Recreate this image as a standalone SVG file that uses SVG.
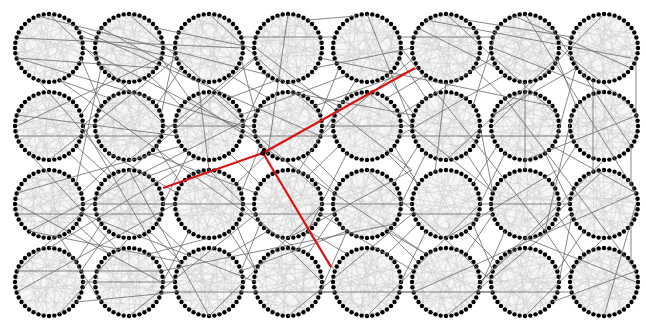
<svg xmlns="http://www.w3.org/2000/svg" width="646" height="320" viewBox="0 0 646 320">
<style>
.bg{fill:#ffffff}
.mesh{fill:none;stroke:#cfcfcf;stroke-width:0.5}
.disk{fill:#000;fill-opacity:0.035;stroke:none}
.dot{fill:#000}
#connectors line{stroke:#6a6a6a;stroke-width:0.95;stroke-opacity:0.85}
.red{fill:none;stroke:#d81414;stroke-width:2.2;stroke-linejoin:round}
</style>
<defs>
<g id="mesh">
<circle class="disk" r="34"/>
<path class="mesh" d="M34 0L-30.3 15.4M33.6 5.3L-30.3 -15.4M32.3 10.5L0 -34M30.3 15.4L-10.5 32.3M27.5 20L-20 -27.5M24 24L-33.6 5.3M20 27.5L15.4 -30.3M15.4 30.3L-33.6 -5.3M10.5 32.3L-15.4 -30.3M5.3 33.6L27.5 -20M0 34L-27.5 -20M-5.3 33.6L5.3 -33.6M-10.5 32.3L32.3 -10.5M-15.4 30.3L-5.3 -33.6M-20 27.5L30.3 15.4M-24 24L20 -27.5M-27.5 20L10.5 32.3M-30.3 15.4L30.3 -15.4M-32.3 10.5L-10.5 -32.3M-33.6 5.3L33.6 -5.3M-34 0L20 27.5M-33.6 -5.3L24 -24M-32.3 -10.5L-5.3 33.6M-30.3 -15.4L32.3 10.5M-27.5 -20L-20 27.5M-24 -24L33.6 5.3M-20 -27.5L-27.5 20M-15.4 -30.3L24 24M-10.5 -32.3L5.3 33.6M-5.3 -33.6L-32.3 10.5M0 -34L-15.4 30.3M5.3 -33.6L-32.3 -10.5M10.5 -32.3L15.4 30.3M15.4 -30.3L-34 0M20 -27.5L-24 -24M24 -24L0 34M27.5 -20L-24 24M30.3 -15.4L-20 -27.5M32.3 -10.5L-33.6 5.3M33.6 -5.3L27.5 20M34 0L-32.3 -10.5M24 24L-10.5 -32.3M0 34L15.4 -30.3M-24 24L32.3 -10.5M-34 0L30.3 15.4M-24 -24L10.5 32.3M0 -34L-5.3 33.6M24 -24L-32.3 10.5"/>
</g>
<g id="ring" class="dot">
<circle cx="34" cy="0" r="2.2"/><circle cx="33.58" cy="5.32" r="2.2"/><circle cx="32.34" cy="10.51" r="2.2"/><circle cx="30.29" cy="15.44" r="2.2"/><circle cx="27.51" cy="19.98" r="2.2"/><circle cx="24.04" cy="24.04" r="2.2"/><circle cx="19.98" cy="27.51" r="2.2"/><circle cx="15.44" cy="30.29" r="2.2"/><circle cx="10.51" cy="32.34" r="2.2"/><circle cx="5.32" cy="33.58" r="2.2"/>
<circle cx="0" cy="34" r="2.2"/><circle cx="-5.32" cy="33.58" r="2.2"/><circle cx="-10.51" cy="32.34" r="2.2"/><circle cx="-15.44" cy="30.29" r="2.2"/><circle cx="-19.98" cy="27.51" r="2.2"/><circle cx="-24.04" cy="24.04" r="2.2"/><circle cx="-27.51" cy="19.98" r="2.2"/><circle cx="-30.29" cy="15.44" r="2.2"/><circle cx="-32.34" cy="10.51" r="2.2"/><circle cx="-33.58" cy="5.32" r="2.2"/>
<circle cx="-34" cy="0" r="2.2"/><circle cx="-33.58" cy="-5.32" r="2.2"/><circle cx="-32.34" cy="-10.51" r="2.2"/><circle cx="-30.29" cy="-15.44" r="2.2"/><circle cx="-27.51" cy="-19.98" r="2.2"/><circle cx="-24.04" cy="-24.04" r="2.2"/><circle cx="-19.98" cy="-27.51" r="2.2"/><circle cx="-15.44" cy="-30.29" r="2.2"/><circle cx="-10.51" cy="-32.34" r="2.2"/><circle cx="-5.32" cy="-33.58" r="2.2"/>
<circle cx="0" cy="-34" r="2.2"/><circle cx="5.32" cy="-33.58" r="2.2"/><circle cx="10.51" cy="-32.34" r="2.2"/><circle cx="15.44" cy="-30.29" r="2.2"/><circle cx="19.98" cy="-27.51" r="2.2"/><circle cx="24.04" cy="-24.04" r="2.2"/><circle cx="27.51" cy="-19.98" r="2.2"/><circle cx="30.29" cy="-15.44" r="2.2"/><circle cx="32.34" cy="-10.51" r="2.2"/><circle cx="33.58" cy="-5.32" r="2.2"/>
</g>
</defs>
<rect class="bg" width="646" height="320"/>

<g id="n00" transform="translate(49,48)"><use href="#mesh"/><use href="#ring"/></g>
<g id="n10" transform="translate(129,48)"><use href="#mesh" transform="rotate(40)"/><use href="#ring"/></g>
<g id="n20" transform="translate(209,48)"><use href="#mesh" transform="rotate(80)"/><use href="#ring"/></g>
<g id="n30" transform="translate(288,48)"><use href="#mesh" transform="rotate(120)"/><use href="#ring"/></g>
<g id="n40" transform="translate(367,48)"><use href="#mesh" transform="rotate(160)"/><use href="#ring"/></g>
<g id="n50" transform="translate(446,48)"><use href="#mesh" transform="rotate(200)"/><use href="#ring"/></g>
<g id="n60" transform="translate(525,48)"><use href="#mesh" transform="rotate(240)"/><use href="#ring"/></g>
<g id="n70" transform="translate(604,48)"><use href="#mesh" transform="rotate(280)"/><use href="#ring"/></g>
<g id="n01" transform="translate(49,126)"><use href="#mesh" transform="rotate(20)"/><use href="#ring"/></g>
<g id="n11" transform="translate(129,126)"><use href="#mesh" transform="rotate(60)"/><use href="#ring"/></g>
<g id="n21" transform="translate(209,126)"><use href="#mesh" transform="rotate(100)"/><use href="#ring"/></g>
<g id="n31" transform="translate(288,126)"><use href="#mesh" transform="rotate(140)"/><use href="#ring"/></g>
<g id="n41" transform="translate(367,126)"><use href="#mesh" transform="rotate(180)"/><use href="#ring"/></g>
<g id="n51" transform="translate(446,126)"><use href="#mesh" transform="rotate(220)"/><use href="#ring"/></g>
<g id="n61" transform="translate(525,126)"><use href="#mesh" transform="rotate(260)"/><use href="#ring"/></g>
<g id="n71" transform="translate(604,126)"><use href="#mesh" transform="rotate(300)"/><use href="#ring"/></g>
<g id="n02" transform="translate(49,204)"><use href="#mesh" transform="rotate(70)"/><use href="#ring"/></g>
<g id="n12" transform="translate(129,204)"><use href="#mesh" transform="rotate(110)"/><use href="#ring"/></g>
<g id="n22" transform="translate(209,204)"><use href="#mesh" transform="rotate(150)"/><use href="#ring"/></g>
<g id="n32" transform="translate(288,204)"><use href="#mesh" transform="rotate(190)"/><use href="#ring"/></g>
<g id="n42" transform="translate(367,204)"><use href="#mesh" transform="rotate(230)"/><use href="#ring"/></g>
<g id="n52" transform="translate(446,204)"><use href="#mesh" transform="rotate(270)"/><use href="#ring"/></g>
<g id="n62" transform="translate(525,204)"><use href="#mesh" transform="rotate(310)"/><use href="#ring"/></g>
<g id="n72" transform="translate(604,204)"><use href="#mesh" transform="rotate(350)"/><use href="#ring"/></g>
<g id="n03" transform="translate(49,282)"><use href="#mesh" transform="rotate(130)"/><use href="#ring"/></g>
<g id="n13" transform="translate(129,282)"><use href="#mesh" transform="rotate(170)"/><use href="#ring"/></g>
<g id="n23" transform="translate(209,282)"><use href="#mesh" transform="rotate(210)"/><use href="#ring"/></g>
<g id="n33" transform="translate(288,282)"><use href="#mesh" transform="rotate(250)"/><use href="#ring"/></g>
<g id="n43" transform="translate(367,282)"><use href="#mesh" transform="rotate(290)"/><use href="#ring"/></g>
<g id="n53" transform="translate(446,282)"><use href="#mesh" transform="rotate(330)"/><use href="#ring"/></g>
<g id="n63" transform="translate(525,282)"><use href="#mesh" transform="rotate(10)"/><use href="#ring"/></g>
<g id="n73" transform="translate(604,282)"><use href="#mesh" transform="rotate(50)"/><use href="#ring"/></g>

<g id="connectors">
<line x1="17" y1="58" x2="156" y2="68"/><line x1="17" y1="38" x2="243" y2="48"/><line x1="81" y1="58" x2="101" y2="106"/><line x1="38" y1="80" x2="118" y2="172"/><line x1="81" y1="37" x2="177" y2="58"/>
<line x1="129" y1="82" x2="83" y2="126"/><line x1="101" y1="28" x2="189" y2="76"/><line x1="101" y1="68" x2="76" y2="184"/><line x1="156" y1="28" x2="254" y2="48"/><line x1="161" y1="58" x2="189" y2="98"/>
<line x1="175" y1="48" x2="161" y2="115"/><line x1="229" y1="75" x2="268" y2="98"/><line x1="241" y1="37" x2="335" y2="37"/><line x1="198" y1="80" x2="209" y2="170"/><line x1="256" y1="58" x2="156" y2="146"/>
<line x1="315" y1="68" x2="412" y2="48"/><line x1="288" y1="82" x2="339" y2="106"/><line x1="308" y1="20" x2="356" y2="16"/><line x1="268" y1="75" x2="243" y2="126"/><line x1="339" y1="68" x2="320" y2="115"/>
<line x1="399" y1="58" x2="426" y2="98"/><line x1="399" y1="37" x2="493" y2="37"/><line x1="356" y1="80" x2="298" y2="172"/><line x1="414" y1="58" x2="320" y2="136"/><line x1="473" y1="68" x2="505" y2="98"/>
<line x1="466" y1="20" x2="572" y2="37"/><line x1="446" y1="82" x2="435" y2="172"/><line x1="418" y1="28" x2="497" y2="68"/><line x1="505" y1="75" x2="399" y2="136"/><line x1="557" y1="58" x2="576" y2="106"/>
<line x1="514" y1="16" x2="631" y2="68"/><line x1="525" y1="82" x2="525" y2="170"/><line x1="576" y1="68" x2="557" y2="136"/><line x1="593" y1="80" x2="593" y2="172"/><line x1="636" y1="58" x2="636" y2="115"/>
<line x1="17" y1="136" x2="161" y2="136"/><line x1="17" y1="115" x2="177" y2="136"/><line x1="76" y1="146" x2="109" y2="176"/><line x1="81" y1="115" x2="109" y2="75"/><line x1="29" y1="153" x2="118" y2="250"/>
<line x1="163" y1="126" x2="254" y2="126"/><line x1="156" y1="106" x2="181" y2="68"/><line x1="109" y1="153" x2="177" y2="193"/><line x1="149" y1="153" x2="256" y2="193"/><line x1="109" y1="98" x2="59" y2="80"/>
<line x1="241" y1="136" x2="335" y2="136"/><line x1="229" y1="98" x2="277" y2="80"/><line x1="229" y1="153" x2="260" y2="184"/><line x1="189" y1="153" x2="163" y2="204"/><line x1="181" y1="106" x2="149" y2="75"/>
<line x1="241" y1="115" x2="347" y2="75"/><line x1="322" y1="126" x2="412" y2="126"/><line x1="260" y1="146" x2="241" y2="193"/><line x1="315" y1="106" x2="418" y2="68"/><line x1="308" y1="153" x2="339" y2="184"/>
<line x1="256" y1="115" x2="241" y2="58"/><line x1="399" y1="136" x2="493" y2="136"/><line x1="347" y1="153" x2="298" y2="250"/><line x1="387" y1="98" x2="426" y2="75"/><line x1="387" y1="153" x2="418" y2="184"/>
<line x1="399" y1="115" x2="493" y2="58"/><line x1="478" y1="136" x2="572" y2="136"/><line x1="426" y1="153" x2="401" y2="204"/><line x1="473" y1="106" x2="497" y2="28"/><line x1="466" y1="153" x2="493" y2="193"/>
<line x1="414" y1="115" x2="387" y2="75"/><line x1="493" y1="115" x2="576" y2="68"/><line x1="545" y1="153" x2="570" y2="204"/><line x1="505" y1="153" x2="480" y2="204"/><line x1="631" y1="146" x2="631" y2="184"/>
<line x1="572" y1="115" x2="545" y2="231"/><line x1="631" y1="106" x2="559" y2="48"/><line x1="83" y1="204" x2="175" y2="204"/><line x1="81" y1="193" x2="118" y2="158"/><line x1="76" y1="224" x2="109" y2="254"/>
<line x1="17" y1="214" x2="161" y2="214"/><line x1="17" y1="193" x2="181" y2="146"/><line x1="29" y1="231" x2="181" y2="262"/><line x1="163" y1="204" x2="254" y2="204"/><line x1="156" y1="224" x2="189" y2="254"/>
<line x1="101" y1="224" x2="76" y2="262"/><line x1="149" y1="176" x2="198" y2="158"/><line x1="101" y1="184" x2="69" y2="153"/><line x1="241" y1="214" x2="335" y2="214"/><line x1="189" y1="231" x2="163" y2="282"/>
<line x1="229" y1="231" x2="256" y2="271"/><line x1="236" y1="184" x2="268" y2="153"/><line x1="181" y1="184" x2="156" y2="146"/><line x1="322" y1="204" x2="412" y2="204"/><line x1="260" y1="224" x2="241" y2="271"/>
<line x1="308" y1="231" x2="347" y2="254"/><line x1="308" y1="176" x2="339" y2="146"/><line x1="320" y1="214" x2="414" y2="271"/><line x1="399" y1="214" x2="493" y2="214"/><line x1="347" y1="231" x2="320" y2="292"/>
<line x1="387" y1="231" x2="426" y2="254"/><line x1="394" y1="184" x2="418" y2="146"/><line x1="335" y1="193" x2="298" y2="158"/><line x1="480" y1="204" x2="570" y2="204"/><line x1="426" y1="231" x2="401" y2="282"/>
<line x1="466" y1="231" x2="497" y2="262"/><line x1="473" y1="184" x2="497" y2="146"/><line x1="418" y1="184" x2="394" y2="146"/><line x1="557" y1="214" x2="584" y2="254"/><line x1="505" y1="231" x2="478" y2="292"/>
<line x1="552" y1="184" x2="576" y2="146"/><line x1="493" y1="193" x2="480" y2="126"/><line x1="631" y1="224" x2="631" y2="262"/><line x1="572" y1="214" x2="559" y2="282"/><line x1="636" y1="193" x2="552" y2="146"/>
<line x1="83" y1="282" x2="175" y2="282"/><line x1="81" y1="271" x2="109" y2="231"/><line x1="76" y1="302" x2="177" y2="292"/><line x1="17" y1="271" x2="161" y2="271"/><line x1="59" y1="314" x2="129" y2="238"/>
<line x1="161" y1="292" x2="256" y2="292"/><line x1="149" y1="254" x2="209" y2="238"/><line x1="101" y1="302" x2="59" y2="236"/><line x1="241" y1="292" x2="335" y2="292"/><line x1="229" y1="254" x2="268" y2="231"/>
<line x1="181" y1="262" x2="149" y2="231"/><line x1="241" y1="271" x2="347" y2="231"/><line x1="320" y1="292" x2="414" y2="292"/><line x1="308" y1="254" x2="335" y2="214"/><line x1="256" y1="271" x2="236" y2="224"/>
<line x1="399" y1="292" x2="493" y2="292"/><line x1="387" y1="254" x2="418" y2="224"/><line x1="335" y1="271" x2="308" y2="231"/><line x1="478" y1="292" x2="572" y2="292"/><line x1="466" y1="254" x2="493" y2="214"/>
<line x1="418" y1="262" x2="387" y2="231"/><line x1="557" y1="271" x2="584" y2="231"/><line x1="493" y1="271" x2="473" y2="224"/><line x1="572" y1="271" x2="545" y2="231"/><line x1="636" y1="271" x2="552" y2="302"/>
<line x1="17" y1="58" x2="243" y2="126"/><line x1="59" y1="80" x2="298" y2="250"/><line x1="189" y1="98" x2="426" y2="254"/><line x1="76" y1="28" x2="320" y2="136"/><line x1="414" y1="292" x2="636" y2="193"/>
<line x1="38" y1="16" x2="268" y2="75"/><line x1="552" y1="28" x2="631" y2="146"/><line x1="29" y1="231" x2="256" y2="115"/><line x1="161" y1="271" x2="394" y2="224"/><line x1="505" y1="98" x2="636" y2="271"/>
<line x1="17" y1="271" x2="149" y2="153"/><line x1="320" y1="58" x2="552" y2="106"/><line x1="426" y1="20" x2="631" y2="58"/>
<line x1="83" y1="48" x2="254" y2="136"/><line x1="49" y1="14" x2="177" y2="136"/><line x1="129" y1="14" x2="241" y2="115"/><line x1="209" y1="14" x2="320" y2="115"/><line x1="288" y1="14" x2="268" y2="153"/>
<line x1="367" y1="14" x2="412" y2="126"/><line x1="446" y1="14" x2="557" y2="115"/><line x1="604" y1="14" x2="493" y2="126"/><line x1="525" y1="14" x2="636" y2="193"/><line x1="17" y1="126" x2="161" y2="58"/>
<line x1="49" y1="160" x2="177" y2="58"/><line x1="129" y1="160" x2="254" y2="58"/><line x1="209" y1="92" x2="320" y2="192"/><line x1="288" y1="92" x2="412" y2="115"/><line x1="367" y1="92" x2="493" y2="192"/>
<line x1="446" y1="160" x2="557" y2="58"/><line x1="525" y1="160" x2="638" y2="115"/><line x1="604" y1="92" x2="493" y2="48"/><line x1="17" y1="204" x2="161" y2="282"/><line x1="83" y1="214" x2="256" y2="282"/>
<line x1="129" y1="170" x2="209" y2="316"/><line x1="209" y1="170" x2="322" y2="282"/><line x1="288" y1="238" x2="412" y2="170"/><line x1="367" y1="170" x2="493" y2="282"/><line x1="446" y1="238" x2="557" y2="170"/>
<line x1="525" y1="238" x2="636" y2="282"/><line x1="604" y1="170" x2="480" y2="282"/><line x1="49" y1="248" x2="177" y2="170"/><line x1="17" y1="292" x2="175" y2="204"/><line x1="129" y1="316" x2="256" y2="214"/>
<line x1="209" y1="316" x2="322" y2="204"/><line x1="288" y1="316" x2="412" y2="214"/><line x1="367" y1="316" x2="480" y2="204"/><line x1="446" y1="316" x2="570" y2="214"/><line x1="525" y1="316" x2="604" y2="238"/>
<line x1="604" y1="316" x2="636" y2="204"/><line x1="83" y1="126" x2="175" y2="282"/><line x1="256" y1="48" x2="412" y2="170"/><line x1="401" y1="48" x2="545" y2="231"/><line x1="480" y1="282" x2="604" y2="160"/>
</g>

<g id="highlight">
<polyline class="red" points="163,188 263,153 415,68"/>
<line class="red" x1="263" y1="153" x2="331" y2="267"/>
<circle cx="263" cy="153" r="2.6" fill="#3a0000"/>
</g>
</svg>
